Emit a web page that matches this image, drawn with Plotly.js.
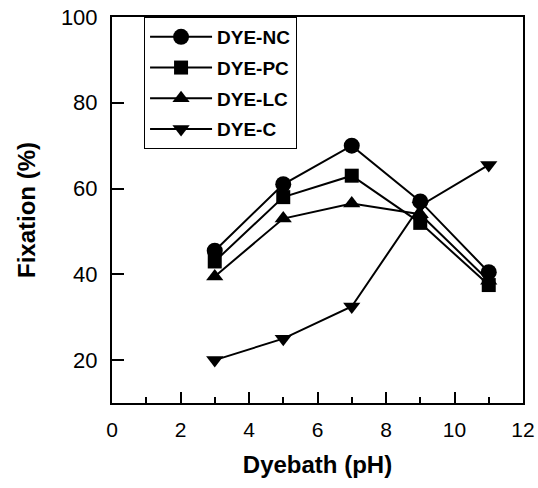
<!DOCTYPE html>
<html>
<head>
<meta charset="utf-8">
<script src="https://cdn.plot.ly/plotly-3.0.1.min.js"></script>
<style>
  html, body { margin: 0; padding: 0; background: #fff; }
  #chart { width: 538px; height: 488px; }
</style>
</head>
<body>
<div id="chart"></div>
<script>
// Data
const ph = [3, 5, 7, 9, 11];
const seriesNames = ["DYE-NC", "DYE-PC", "DYE-LC", "DYE-C"];
const dyeNC = [45.5, 61, 70, 57, 40.5];
const dyePC = [43, 58, 63, 52, 37.5];
const dyeLC = [39.5, 53, 56.5, 54, 38.5];
const dyeC  = [20, 25, 32.5, 56, 65.5];
const xTicks = [0, 2, 4, 6, 8, 10, 12];
const yTicks = [20, 40, 60, 80, 100];

const seriesValues = [dyeNC, dyePC, dyeLC, dyeC];
const symbols = ["circle", "square", "triangle-up", "triangle-down"];
const sizes = [16, 14, 15, 15];

const traces = seriesValues.map((vals, i) => ({
  x: ph,
  y: vals,
  name: "<b>" + seriesNames[i] + "</b>",
  legendgroup: "g" + i,
  type: "scatter",
  mode: "lines+markers",
  line: { color: "#000", width: 2 },
  marker: { symbol: symbols[i], size: sizes[i], color: "#000" }
}));

const font = "Liberation Sans, Arial, sans-serif";

const layout = {
  width: 538,
  height: 488,
  margin: { l: 112, r: 15, t: 17, b: 85 },
  paper_bgcolor: "#fff",
  plot_bgcolor: "#fff",
  font: { family: font, color: "#000" },
  showlegend: true,
  legend: {
    x: 0.078, y: 1, xanchor: "left", yanchor: "top",
    bordercolor: "#000", borderwidth: 1,
    bgcolor: "#fff",
    font: { family: font, size: 19, color: "#000" },
    tracegroupgap: 3,
    itemwidth: 62
  },
  xaxis: {
    range: [0, 12],
    tickvals: xTicks,
    ticktext: xTicks.map(String),
    ticks: "inside", ticklen: 11, tickwidth: 2, tickcolor: "#000",
    minor: { dtick: 1, tick0: 0, ticks: "inside", ticklen: 6, tickwidth: 2, tickcolor: "#000" },
    showline: true, linecolor: "#000", linewidth: 2, mirror: true,
    showgrid: false, zeroline: false,
    tickfont: { family: font, size: 21, color: "#000" },
    ticklabelstandoff: 7,
    ticklabeloverflow: "allow",
    title: { text: "<b>Dyebath (pH)</b>", font: { family: font, size: 24, color: "#000" }, standoff: 16 }
  },
  yaxis: {
    range: [10, 100],
    tickvals: yTicks,
    ticktext: yTicks.map(String),
    ticks: "inside", ticklen: 12, tickwidth: 2, tickcolor: "#000",
    showline: true, linecolor: "#000", linewidth: 2, mirror: true,
    showgrid: false, zeroline: false,
    tickfont: { family: font, size: 22, color: "#000" },
    ticklabelstandoff: 8,
    title: { text: "<b>Fixation (%)</b>", font: { family: font, size: 24, color: "#000" }, standoff: 18 }
  }
};

Plotly.newPlot("chart", traces, layout, { displayModeBar: false, staticPlot: true });
</script>
</body>
</html>
